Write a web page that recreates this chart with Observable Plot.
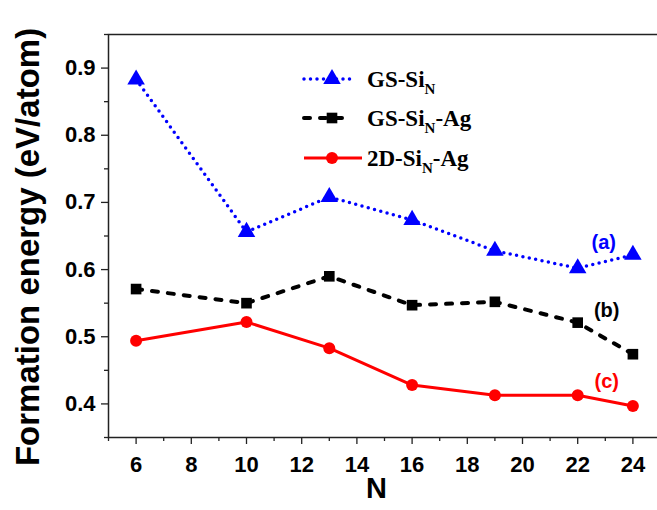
<!DOCTYPE html>
<html>
<head>
<meta charset="utf-8">
<script src="https://cdn.jsdelivr.net/npm/d3@7"></script>
<script src="https://cdn.jsdelivr.net/npm/@observablehq/plot@0.6"></script>
<style>
  html, body { margin: 0; padding: 0; background: #fff; }
  #wrap { position: relative; width: 657px; height: 510px; overflow: hidden; }
  #legend { position: absolute; left: 0; top: 0; }
</style>
</head>
<body>
<div id="wrap"></div>
<script>
// ---- data ----
const N = [6, 10, 13, 16, 19, 22, 24];
const gsSi = [0.883, 0.656, 0.708, 0.674, 0.628, 0.602, 0.622];
const gsSiAg = [0.571, 0.550, 0.590, 0.547, 0.552, 0.521, 0.474];
const twoDSiAg = [0.494, 0.522, 0.483, 0.428, 0.413, 0.413, 0.397];
const seriesNames = ["GS-Si", "GS-Si", "2D-Si"];
const seriesSuffix = ["", "-Ag", "-Ag"];
const seriesTags = ["(a)", "(b)", "(c)"];
const xTicks = [6, 8, 10, 12, 14, 16, 18, 20, 22, 24];
const xMinor = [5, 7, 9, 11, 13, 15, 17, 19, 21, 23, 25];
const yTicks = [0.4, 0.5, 0.6, 0.7, 0.8, 0.9];
const yMinor = [0.35, 0.45, 0.55, 0.65, 0.75, 0.85, 0.95];

const rows = (ys) => N.map((n, i) => ({N: n, E: ys[i]}));
const dA = rows(gsSi), dB = rows(gsSiAg), dC = rows(twoDSiAg);
const tagAt = 22;

const font = "'Liberation Sans', Arial, sans-serif";
const axisColor = "#222";

const plot = Plot.plot({
  width: 657,
  height: 510,
  marginLeft: 108,
  marginTop: 34,
  marginBottom: 73,
  marginRight: -3,
  style: {fontFamily: font, fontWeight: "bold", background: "#fff", overflow: "visible"},
  x: {domain: [5, 25]},
  y: {domain: [0.35, 0.95]},
  marks: [
    Plot.frame({stroke: axisColor, strokeWidth: 1.5}),
    Plot.axisX(xMinor, {tickSize: 4, tickFormat: () => "", stroke: axisColor, strokeWidth: 1.3, label: null}),
    Plot.axisX(xTicks, {tickSize: 7, tickPadding: 12, fontSize: 22, fontWeight: "bold", fill: "#000", stroke: axisColor, strokeWidth: 1.3, label: null}),
    Plot.axisY(yMinor, {tickSize: 4, tickFormat: () => "", stroke: axisColor, strokeWidth: 1.3, label: null}),
    Plot.axisY(yTicks, {tickSize: 7, tickPadding: 6, fontSize: 22, fontWeight: "bold", fill: "#000", stroke: axisColor, strokeWidth: 1.3, tickFormat: d3.format(".1f"), label: null}),
    Plot.text(["Formation energy (eV/atom)"], {frameAnchor: "left", textAnchor: "middle", dx: -80, dy: 11, rotate: -90, fontSize: 33, fontWeight: "bold", fill: "#000"}),
    Plot.text(["N"], {frameAnchor: "bottom", dx: -8, dy: 60, fontSize: 29, fontWeight: "bold", fill: "#000"}),
    // series a
    Plot.line(dA, {x: "N", y: "E", stroke: "#0000ff", strokeWidth: 3.5, strokeDasharray: "0 6.5", strokeLinecap: "round"}),
    Plot.dot(dA, {x: "N", y: "E", symbol: "triangle", r: 6.5, fill: "#0000ff", stroke: "none"}),
    // series b
    Plot.line(dB, {x: "N", y: "E", stroke: "#000", strokeWidth: 4, strokeDasharray: "6 10", strokeLinecap: "round"}),
    Plot.dot(dB, {x: "N", y: "E", symbol: "square", r: 6, fill: "#000", stroke: "none"}),
    // series c
    Plot.line(dC, {x: "N", y: "E", stroke: "#ff0000", strokeWidth: 3}),
    Plot.dot(dC, {x: "N", y: "E", symbol: "circle", r: 6, fill: "#ff0000", stroke: "none"}),
    // tags
    Plot.text(dA.filter(d => d.N === tagAt), {x: "N", y: "E", text: () => seriesTags[0], dx: 26, dy: -26, fill: "#0000ff", fontSize: 20, fontWeight: "bold"}),
    Plot.text(dB.filter(d => d.N === tagAt), {x: "N", y: "E", text: () => seriesTags[1], dx: 29, dy: -12, fill: "#000", fontSize: 20, fontWeight: "bold"}),
    Plot.text(dC.filter(d => d.N === tagAt), {x: "N", y: "E", text: () => seriesTags[2], dx: 29, dy: -14, fill: "#ff0000", fontSize: 20, fontWeight: "bold"})
  ]
});

const wrap = document.getElementById("wrap");
wrap.appendChild(plot);

// ---- legend overlay ----
const ns = "http://www.w3.org/2000/svg";
const leg = document.createElementNS(ns, "svg");
leg.setAttribute("id", "legend");
leg.setAttribute("width", 657);
leg.setAttribute("height", 510);
const items = [
  {y: 79, color: "#0000ff", dash: "0 6.5", w: 3.5, cap: "round", x2: 356, sym: "triangle"},
  {y: 118, color: "#000", dash: "6 10", w: 4, cap: "round", x2: 348, sym: "square"},
  {y: 158, color: "#ff0000", dash: null, w: 3, cap: "butt", x2: 362, sym: "circle"}
];
items.forEach((it, i) => {
  const line = document.createElementNS(ns, "line");
  line.setAttribute("x1", 304); line.setAttribute("x2", it.x2);
  line.setAttribute("y1", it.y); line.setAttribute("y2", it.y);
  line.setAttribute("stroke", it.color);
  line.setAttribute("stroke-width", it.w);
  line.setAttribute("stroke-linecap", it.cap);
  if (it.dash) line.setAttribute("stroke-dasharray", it.dash);
  leg.appendChild(line);
  const sym = document.createElementNS(ns, "path");
  const type = it.sym === "triangle" ? d3.symbolTriangle : it.sym === "square" ? d3.symbolSquare : d3.symbolCircle;
  const size = it.sym === "triangle" ? 6.5 * 6.5 * Math.PI : 36 * Math.PI;
  sym.setAttribute("d", d3.symbol(type, size)());
  sym.setAttribute("transform", `translate(332,${it.y})`);
  sym.setAttribute("fill", it.color);
  leg.appendChild(sym);
  const t = document.createElementNS(ns, "text");
  t.setAttribute("x", 367); t.setAttribute("y", it.y + 8);
  t.setAttribute("font-family", "'Liberation Serif', 'Times New Roman', serif");
  t.setAttribute("font-weight", "bold");
  t.setAttribute("font-size", 23);
  t.setAttribute("fill", "#000");
  const a = document.createElementNS(ns, "tspan");
  a.textContent = seriesNames[i];
  const sub = document.createElementNS(ns, "tspan");
  sub.textContent = "N";
  sub.setAttribute("font-size", 15);
  sub.setAttribute("dy", 7);
  const b = document.createElementNS(ns, "tspan");
  b.textContent = seriesSuffix[i];
  b.setAttribute("dy", -7);
  t.appendChild(a); t.appendChild(sub); t.appendChild(b);
  leg.appendChild(t);
});
wrap.appendChild(leg);
</script>
</body>
</html>
